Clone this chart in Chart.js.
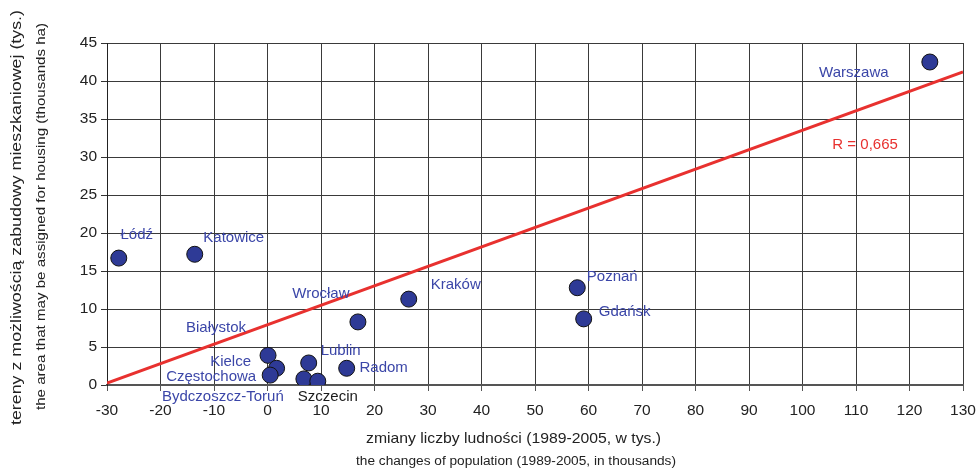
<!DOCTYPE html>
<html>
<head>
<meta charset="utf-8">
<script src="https://cdn.jsdelivr.net/npm/chart.js@4.4.1/dist/chart.umd.min.js"></script>
<style>
  html, body { margin: 0; padding: 0; background: #fff; }
  #wrap { width: 977px; height: 470px; position: relative; }
</style>
</head>
<body>
<div id="wrap"><canvas id="c" width="977" height="470"></canvas></div>
<script>
// Cities: population change 1989-2005 (thousands) vs. area available for housing (thousand ha)
const cities = ['Łódź', 'Katowice', 'Warszawa', 'Poznań', 'Gdańsk', 'Kraków', 'Wrocław',
  'Białystok', 'Lublin', 'Radom', 'Kielce', 'Częstochowa', 'Bydczoszcz-Toruń', 'Szczecin'];
const popChange = [-27.8, -13.6, 123.8, 57.9, 59.1, 26.4, 16.9, 0.1, 7.7, 14.8, 1.7, 0.5, 6.8, 9.4];
const housingArea = [16.7, 17.2, 42.5, 12.8, 8.7, 11.3, 8.3, 3.9, 2.9, 2.2, 2.2, 1.3, 0.8, 0.5];

// Linear trend line end points
const trendX = [-30, 130];
const trendY = [0.25, 41.2];
const rLabel = 'R = 0,665';

const xTicks = { min: -30, max: 130, step: 10 };
const yTicks = { min: 0, max: 45, step: 5 };

// Label placement around each marker (pixels, label centre relative to marker)
const labelOffsets = [[18, -23], [39, -16], [-76, 11], [35, -11], [41, -7], [47, -14], [-37, -28],
  [-52, -28], [32, -12], [37, 0], [-46, -6], [-59, 2], [-81, 18], [10, 16]];
const labelColors = cities.map(c => c === 'Szczecin' ? '#1a1a1a' : '#3b46a8');

const FONT = '"Liberation Sans", Arial, Helvetica, sans-serif';

// Draws a centred text line stretched to a given length
function fittedText(ctx, text, x, y, size, length, angle) {
  ctx.save();
  ctx.font = size + 'px ' + FONT;
  const w = ctx.measureText(text).width;
  ctx.translate(x, y);
  if (angle) ctx.rotate(angle);
  ctx.scale(length / w, 1);
  ctx.fillText(text, 0, 0);
  ctx.restore();
}

const labelPlugin = {
  id: 'cityLabels',
  afterDatasetsDraw(chart) {
    const { ctx, scales: { x, y } } = chart;
    ctx.save();
    ctx.font = '15px ' + FONT;
    ctx.textAlign = 'center';
    ctx.textBaseline = 'middle';
    cities.forEach((name, i) => {
      const px = x.getPixelForValue(popChange[i]);
      const py = y.getPixelForValue(housingArea[i]);
      ctx.fillStyle = labelColors[i];
      ctx.fillText(name, px + labelOffsets[i][0], py + labelOffsets[i][1]);
    });
    ctx.fillStyle = '#e8312f';
    ctx.fillText(rLabel, x.getPixelForValue(111.7), y.getPixelForValue(31.6));
    ctx.restore();
  }
};

const titlePlugin = {
  id: 'axisTitles',
  afterDraw(chart) {
    const { ctx } = chart;
    ctx.save();
    ctx.fillStyle = '#222';
    ctx.textAlign = 'center';
    ctx.textBaseline = 'middle';
    fittedText(ctx, 'zmiany liczby ludności (1989-2005, w tys.)', 513.5, 439, 15, 295, 0);
    fittedText(ctx, 'the changes of population (1989-2005, in thousands)', 516, 462, 12.5, 320, 0);
    fittedText(ctx, 'tereny z możliwością zabudowy mieszkaniowej (tys.)', 17, 217.5, 15.5, 415, -Math.PI / 2);
    fittedText(ctx, 'the area that may be assigned for housing (thousands ha)', 41, 216.5, 13, 387, -Math.PI / 2);
    ctx.restore();
  }
};

new Chart(document.getElementById('c'), {
  type: 'scatter',
  data: {
    datasets: [
      {
        type: 'line',
        data: trendX.map((v, i) => ({ x: v, y: trendY[i] })),
        borderColor: '#e8312f',
        borderWidth: 3,
        pointRadius: 0,
        fill: false,
        order: 2
      },
      {
        data: popChange.map((v, i) => ({ x: v, y: housingArea[i] })),
        backgroundColor: '#2e3a96',
        borderColor: '#111',
        borderWidth: 1,
        pointRadius: 8,
        order: 1
      }
    ]
  },
  options: {
    responsive: false,
    animation: false,
    events: [],
    layout: { padding: { top: 43, right: 14, left: 0, bottom: 0 } },
    plugins: { legend: { display: false }, tooltip: { enabled: false } },
    scales: {
      x: {
        type: 'linear',
        min: xTicks.min, max: xTicks.max,
        afterFit(s) { s.height = 85; s.paddingLeft = 0; s.paddingRight = 0; },
        ticks: { stepSize: xTicks.step, color: '#222', font: { size: 15.5, family: FONT }, padding: 10, maxRotation: 0 },
        grid: { color: '#3a3a3a', lineWidth: 1, tickLength: 6, tickColor: '#555' },
        border: { color: '#555', width: 2 }
      },
      y: {
        type: 'linear',
        min: yTicks.min, max: yTicks.max,
        afterFit(s) { s.width = 107; s.paddingTop = 0; s.paddingBottom = 0; },
        ticks: { stepSize: yTicks.step, color: '#222', font: { size: 15.5, family: FONT }, padding: 4 },
        grid: { color: '#3a3a3a', lineWidth: 1, tickLength: 6, tickColor: '#333' },
        border: { color: '#222', width: 1 }
      }
    }
  },
  plugins: [labelPlugin, titlePlugin]
});
</script>
</body>
</html>
